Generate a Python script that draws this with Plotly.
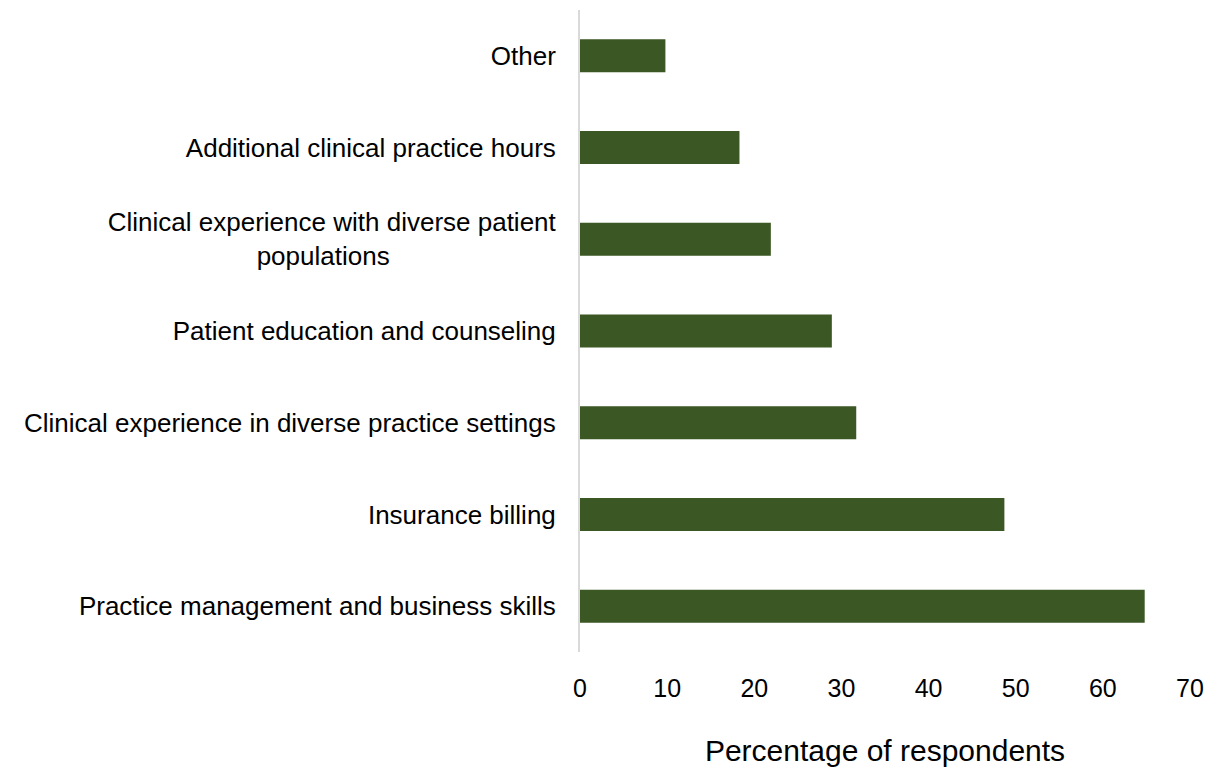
import plotly.graph_objects as go

# categories bottom to top, as drawn
CATEGORIES = [
    'Practice management and business skills',
    'Insurance billing',
    'Clinical experience in diverse practice settings',
    'Patient education and counseling',
    'Clinical experience with diverse patient<br>populations' + '&nbsp;' * 23,
    'Additional clinical practice hours',
    'Other',
]
PERCENTAGES = [64.8, 48.7, 31.7, 28.9, 21.9, 18.3, 9.8]
X_TICKS = [0, 10, 20, 30, 40, 50, 60, 70]

BAR_COLOR = '#3b5723'
FONT = 'Liberation Sans, Arial, sans-serif'

fig = go.Figure()
fig.add_trace(go.Bar(
    x=PERCENTAGES,
    y=CATEGORIES,
    orientation='h',
    marker=dict(color=BAR_COLOR, line=dict(width=0)),
    hovertemplate='%{y}: %{x:.1f}%<extra></extra>',
))

# page body has an 8px margin, so the margins below are shifted by it
fig.update_layout(
    width=1220,
    height=767,
    paper_bgcolor='white',
    plot_bgcolor='white',
    showlegend=False,
    bargap=0.64,
    font=dict(family=FONT, size=26, color='#000000'),
    margin=dict(l=572, r=38, t=2, b=123),
    xaxis=dict(
        range=[0, 70],
        tickvals=X_TICKS,
        showgrid=False,
        zeroline=False,
        showline=False,
        ticks='',
        ticklabelstandoff=19,
        tickfont=dict(size=25),
        title=dict(text='Percentage of respondents', font=dict(size=30), standoff=38),
    ),
    yaxis=dict(
        showgrid=False,
        zeroline=False,
        showline=True,
        linecolor='#d9d9d9',
        linewidth=2,
        ticks='',
        ticklabelstandoff=17,
        tickfont=dict(size=26),
    ),
)

fig.write_html('out.html')
